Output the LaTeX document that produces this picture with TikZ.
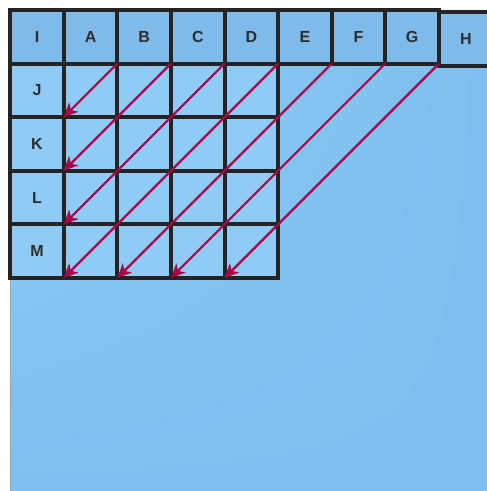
\documentclass[tikz,border=0pt]{standalone}
\usepackage{fontspec}
\setmainfont{Liberation Sans}
\usepackage{tikz}
\usetikzlibrary{arrows.meta, positioning, shadings}
\definecolor{gridline}{RGB}{36, 36, 36}
\definecolor{skyback}{RGB}{126, 191, 239}
\definecolor{skylight}{RGB}{146, 205, 245}
\definecolor{headblue}{RGB}{127, 187, 234}
\definecolor{cellblue}{RGB}{144, 203, 245}
\definecolor{crimson}{RGB}{168, 0, 72}
\definecolor{labelgray}{RGB}{45, 45, 45}

\begin{document}
\begin{tikzpicture}[
    x=1pt, y=1pt,
    cell/.style={rectangle, draw=gridline, line width=4pt, fill=cellblue,
                 minimum width=53.6pt, minimum height=53.6pt,
                 inner sep=0pt, outer sep=0pt},
    head/.style={cell, fill=headblue, text=labelgray,
                 font=\fontsize{16}{18}\selectfont\bfseries},
    diag/.style={-{Stealth[length=14pt, width=13pt, inset=4pt]},
                 line width=2.2pt, crimson}
]

\useasboundingbox (0,0) rectangle (487,-491);
\shade[upper left=skylight, upper right=skyback, lower left=skyback, lower right=skyback]
    (10,-10) rectangle (490,-494);
\draw[gray!70, line width=0.6pt] (10,-10) -- (10,-491);

% inner cells
\node[cell] (JA) at (90.6, -90.3)  {};
\node[cell] (JB) at (144.2,-90.3)  {};
\node[cell] (JC) at (197.8,-90.3)  {};
\node[cell] (JD) at (251.4,-90.3)  {};
\node[cell] (KA) at (90.6, -143.9) {};
\node[cell] (KB) at (144.2,-143.9) {};
\node[cell] (KC) at (197.8,-143.9) {};
\node[cell] (KD) at (251.4,-143.9) {};
\node[cell] (LA) at (90.6, -197.5) {};
\node[cell] (LB) at (144.2,-197.5) {};
\node[cell] (LC) at (197.8,-197.5) {};
\node[cell] (LD) at (251.4,-197.5) {};
\node[cell] (MA) at (90.6, -251.1) {};
\node[cell] (MB) at (144.2,-251.1) {};
\node[cell] (MC) at (197.8,-251.1) {};
\node[cell] (MD) at (251.4,-251.1) {};

% header row and column
\node[head] (I) at (37.0, -36.7) {I};
\node[head] (A) at (90.6, -36.7) {A};
\node[head] (B) at (144.2,-36.7) {B};
\node[head] (C) at (197.8,-36.7) {C};
\node[head] (D) at (251.4,-36.7) {D};
\node[head] (E) at (305.0,-36.7) {E};
\node[head] (F) at (358.6,-36.7) {F};
\node[head] (G) at (412.2,-36.7) {G};
\node[head] (H) at (465.8,-39.2) {H};
\node[head, fill=cellblue] (J) at (37.0, -90.3)  {J};
\node[head, fill=cellblue] (K) at (37.0, -143.9) {K};
\node[head, fill=cellblue] (L) at (37.0, -197.5) {L};
\node[head, fill=cellblue] (M) at (37.0, -251.1) {M};

% diagonals
\draw[diag] (JA.north east) -- (JA.south west);
\draw[diag] (JB.north east) -- (KA.south west);
\draw[diag] (JC.north east) -- (LA.south west);
\draw[diag] (JD.north east) -- (MA.south west);
\draw[diag] (E.south east)  -- (MB.south west);
\draw[diag] (F.south east)  -- (MC.south west);
\draw[diag] (G.south east)  -- (MD.south west);

\end{tikzpicture}
\end{document}
